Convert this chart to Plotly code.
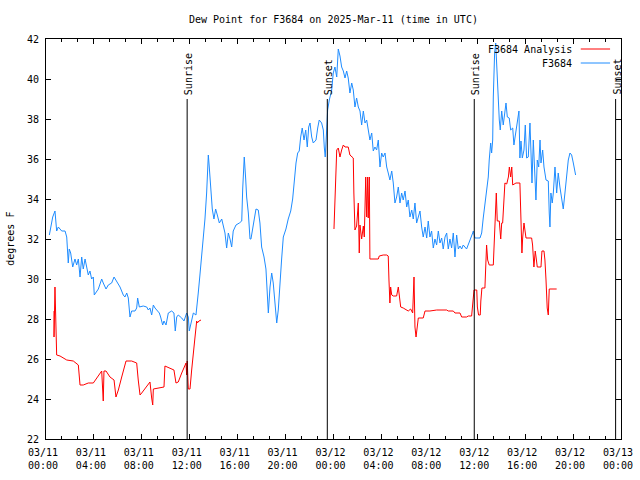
import pandas as pd
import plotly.graph_objects as go

# ---- data (hours since 2025-03-11 00:00 UTC, dew point in degrees F) ----
obs_hours = [0.28, 0.56, 0.75, 0.89, 1.03, 1.31, 1.59, 1.73, 1.86, 1.94, 2.06, 2.23, 2.42, 2.56, 2.70, 2.84,
             2.98, 3.11, 3.26, 3.40, 3.53, 3.67, 3.81, 3.95, 4.03, 4.37, 4.65, 4.78, 5.01, 5.20, 5.48, 5.68,
             5.90, 6.18, 6.45, 6.59, 6.74, 6.87, 7.01, 7.15, 7.43, 7.57, 7.65, 7.79, 8.12, 8.41, 8.54, 8.68,
             8.82, 8.96, 9.10, 9.24, 9.46, 9.57, 9.74, 9.85, 10.02, 10.21, 10.49, 10.68, 10.79, 10.91, 11.04,
             11.33, 11.52, 11.74, 11.88, 11.96, 12.16, 12.30, 12.52, 12.63, 12.71, 12.85, 13.00, 13.13, 13.27,
             13.41, 13.55, 13.63, 13.75, 13.88, 14.02, 14.16, 14.30, 14.47, 14.67, 14.80, 14.94, 15.08, 15.22,
             15.36, 15.50, 15.63, 15.86, 16.14, 16.34, 16.42, 16.55, 16.67, 16.75, 16.89, 17.03, 17.11, 17.25,
             17.36, 17.53, 17.72, 17.86, 18.00, 18.20, 18.36, 18.47, 18.56, 18.70, 18.84, 18.97, 19.11, 19.26,
             19.39, 19.53, 19.67, 19.81, 20.03, 20.22, 20.43, 20.59, 20.73, 20.87, 21.01, 21.14, 21.26, 21.39,
             21.54, 21.68, 21.81, 21.93, 22.04, 22.18, 22.31, 22.54, 22.68, 22.81, 23.01, 23.15, 23.23, 23.31,
             23.43, 23.51, 23.65, 23.85, 23.98, 24.12, 24.27, 24.40, 24.54, 24.68, 24.82, 24.96, 25.10, 25.23,
             25.37, 25.52, 25.65, 25.79, 25.93, 26.07, 26.21, 26.35, 26.49, 26.63, 26.77, 26.90, 27.04, 27.19,
             27.32, 27.46, 27.60, 27.74, 27.88, 28.02, 28.15, 28.30, 28.44, 28.57, 28.71, 28.86, 28.99, 29.13,
             29.27, 29.41, 29.55, 29.69, 29.82, 29.97, 30.11, 30.24, 30.38, 30.53, 30.66, 30.80, 30.94, 31.08,
             31.22, 31.36, 31.49, 31.64, 31.78, 31.91, 32.05, 32.19, 32.33, 32.47, 32.61, 32.75, 32.89, 33.03,
             33.16, 33.31, 33.45, 33.58, 33.72, 33.86, 34.00, 34.14, 34.28, 34.42, 34.56, 34.70, 34.83, 35.11,
             35.25, 35.45, 35.62, 35.67, 35.81, 36.23, 36.37, 36.50, 36.64, 36.78, 36.92, 37.00, 37.12, 37.20,
             37.29, 37.34, 37.45, 37.54, 37.62, 37.75, 37.84, 37.92, 38.04, 38.17, 38.31, 38.40, 38.51, 38.67,
             38.79, 38.96, 39.06, 39.23, 39.37, 39.48, 39.56, 39.65, 39.76, 39.90, 40.01, 40.12, 40.26, 40.40,
             40.48, 40.57, 40.68, 40.82, 40.90, 41.01, 41.13, 41.24, 41.32, 41.46, 41.57, 41.74, 41.93, 42.01,
             42.07, 42.15, 42.26, 42.35, 42.49, 42.63, 42.76, 42.90, 43.04, 43.18, 43.32, 43.46, 43.60, 43.74,
             43.88, 44.02, 44.16, 44.21]
obs_dewpt = [32.2, 33.1, 33.4, 32.4, 32.6, 32.4, 32.4, 32.1, 30.8, 31.5, 31.3, 30.6, 31.0, 30.7, 31.0, 30.1,
             31.1, 30.5, 31.0, 30.6, 30.2, 30.4, 30.0, 30.1, 29.2, 29.5, 30.0, 29.8, 29.5, 29.7, 29.8, 30.1,
             29.9, 29.6, 29.2, 29.1, 29.3, 29.05, 28.1, 28.4, 28.4, 28.55, 29.05, 28.6, 28.65, 28.6, 28.45, 28.55,
             28.2, 28.7, 28.55, 28.45, 28.3, 28.1, 27.7, 27.9, 27.7, 28.3, 28.4, 28.3, 27.4, 28.1, 28.2,
             28.05, 27.9, 28.3, 28.1, 27.4, 28.0, 28.3, 28.2, 28.7, 29.3, 30.2, 31.1, 32.0, 33.0,
             34.3, 36.2, 35.6, 34.5, 33.5, 33.0, 33.5, 33.2, 32.8, 33.0, 32.7, 32.3, 31.55, 32.3,
             32.0, 31.6, 32.4, 32.7, 32.8, 32.9, 34.5, 36.1, 35.0, 34.1, 33.3, 32.0, 32.0, 32.6,
             32.9, 33.5, 33.45, 32.8, 31.6, 31.1, 30.5, 29.3, 28.3, 29.6, 30.3, 29.8, 28.8, 27.8,
             28.45, 30.0, 31.0, 32.1, 32.5, 33.0, 33.4, 34.0, 35.1, 35.8, 36.3, 36.4, 37.1, 37.55,
             36.95, 37.45, 36.6, 37.6, 37.8, 37.1, 36.8, 36.95, 37.55, 37.95, 37.8, 37.45, 36.6, 36.1,
             37.45, 38.45, 38.95, 39.45, 40.3, 40.6, 40.1, 41.5, 41.15, 40.6, 40.4, 40.05, 40.4, 40.05,
             39.3, 39.8, 39.45, 38.6, 39.05, 38.6, 38.4, 37.7, 38.4, 37.8, 37.95, 37.45, 36.95, 37.3,
             36.4, 36.6, 36.45, 36.95, 35.6, 36.3, 36.1, 36.3, 35.6, 35.3, 34.95, 35.4, 34.8, 33.8,
             34.1, 34.6, 33.8, 34.3, 33.95, 34.4, 33.6, 33.95, 33.1, 33.45, 33.0, 33.8, 32.8, 33.1,
             33.4, 32.6, 32.1, 32.6, 32.05, 32.9, 32.1, 32.4, 31.55, 32.0, 31.7, 32.4, 31.8, 32.05,
             31.5, 32.1, 32.3, 31.5, 32.0, 31.55, 32.3, 31.1, 32.2, 31.5, 31.65, 31.5, 31.7, 31.5,
             31.7, 32.0, 32.3, 32.4, 32.05, 32.05, 32.3, 33.05, 33.8, 34.6, 35.1, 35.95, 36.8, 36.3,
             36.95, 39.1, 41.3, 41.8, 40.6, 39.1, 37.95, 37.45, 38.4, 37.7, 38.6, 38.8, 38.1, 38.05,
             37.45, 37.55, 36.7, 37.45, 38.05, 38.4, 36.05, 36.9, 36.05, 36.45, 37.7, 36.05, 36.1, 37.8,
             36.45, 34.8, 36.95, 35.45, 33.95, 35.95, 35.6, 36.95, 35.8, 36.45, 35.6, 34.95, 34.9, 33.3,
             32.6, 34.3, 33.8, 34.3, 35.6, 34.3, 35.3, 34.6, 34.1, 33.5, 34.3, 35.3, 35.95, 36.3,
             36.2, 35.8, 35.3, 35.2]

ana_hours = [0.67, 0.67, 0.75, 0.83, 0.89, 1.17, 1.73, 2.28, 2.70, 2.84, 3.11, 3.53, 3.95, 4.65, 4.78, 4.84,
             5.01, 5.34, 5.68, 5.84, 6.04, 6.32, 6.68, 7.15, 7.57, 7.70, 7.85, 7.99, 8.41, 8.68, 8.82, 8.91,
             8.96, 9.37, 9.85, 9.93, 10.35, 10.68, 10.85, 11.04, 11.33, 11.52, 11.69, 11.74, 11.79, 11.88,
             12.02, 12.16, 12.30, 12.44, 12.58, 12.63, 12.77, 12.94,
             None,
             24.04, 24.12, 24.21, 24.27, 24.40, 24.54, 24.68, 24.82, 24.96, 25.23, 25.37, 25.65, 25.70, 25.79,
             25.93, 26.02, 26.07, 26.15, 26.21, 26.35, 26.49, 26.57, 26.69, 26.77, 26.85, 26.90, 26.99, 27.04,
             27.74, 27.82, 28.15, 28.44, 28.57, 28.63, 28.71, 28.77, 28.86, 28.99, 29.27, 29.41, 29.49, 29.61,
             29.82, 30.11, 30.24, 30.44, 30.61, 30.72, 30.80, 30.89, 30.99, 31.08, 31.49, 31.64, 32.05, 32.61,
             33.45, 33.58, 34.00, 34.14, 34.56, 34.70, 35.11, 35.25, 35.53, 35.62, 35.67, 35.73, 35.96, 36.01,
             36.11, 36.25, 36.30, 36.39, 36.64, 36.69, 36.78, 36.87, 37.00, 37.34, 37.40, 37.51, 37.59, 37.67,
             37.84, 37.96, 38.04, 38.12, 38.23, 38.31, 38.46, 38.60, 38.68, 38.79, 38.88, 38.96, 39.23, 39.56,
             39.65, 39.73, 39.79, 39.90, 39.98, 40.07, 40.54, 40.62, 40.73, 40.84, 40.93, 41.01, 41.32, 41.40,
             41.57, 41.65, 41.74, 41.84, 41.93, 42.01, 42.63]
ana_dewpt = [28.4, 27.1, 29.6, 27.9, 26.2, 26.15, 25.95, 25.9, 25.7, 24.7, 24.7, 24.8, 24.8, 25.4, 23.9, 25.4,
             25.4, 25.1, 24.95, 24.1, 24.45, 25.1, 25.9, 25.9, 25.8, 24.95, 24.2, 24.3, 24.6, 24.85, 24.05, 23.7,
             24.5, 24.55, 24.6, 25.65, 25.55, 25.45, 24.8, 24.85, 25.3, 25.6, 25.8, 25.2, 25.9, 24.5,
             24.5, 25.45, 26.45, 27.1, 27.9, 27.8, 27.9, 27.95,
             None,
             32.5, 33.8, 35.3, 36.45, 36.55, 36.1, 36.45, 36.7, 36.6, 36.6, 36.2, 36.05, 34.3, 32.45,
             32.65, 33.3, 33.8, 31.3, 32.7, 32.0, 32.65, 32.1, 35.1, 33.1, 35.1, 33.05, 35.1, 31.0,
             31.0, 31.15, 31.2, 31.2, 31.15, 29.95, 28.8, 29.6, 29.2, 29.15, 29.15, 29.6, 29.15, 28.6,
             28.55, 28.45, 28.4, 28.5, 28.3, 30.1, 27.6, 27.1, 27.6, 28.05, 28.05, 28.4, 28.4, 28.45,
             28.45, 28.4, 28.4, 28.3, 28.3, 28.1, 28.1, 28.15, 28.15, 28.8, 29.45, 29.45, 29.45, 28.6,
             28.2, 28.2, 28.9, 29.55, 29.55, 30.55, 31.7, 30.95, 30.7, 30.7, 31.55, 32.9, 34.3, 32.9,
             32.9, 32.0, 32.8, 32.8, 33.8, 34.8, 34.75, 35.1, 35.6, 35.1, 35.6, 34.7, 34.8, 34.8,
             32.95, 31.3, 32.05, 32.8, 32.45, 32.05, 32.05, 31.7, 30.6, 31.4, 31.0, 30.6, 30.6, 31.4,
             31.4, 30.95, 29.95, 28.55, 28.2, 29.5, 29.5]

event_labels = ["Sunrise", "Sunset", "Sunrise", "Sunset"]
event_times = ["2025-03-11 11:47", "2025-03-11 23:29", "2025-03-12 11:45", "2025-03-12 23:33"]

tick_times = ["2025-03-11 00:00", "2025-03-11 04:00", "2025-03-11 08:00", "2025-03-11 12:00",
              "2025-03-11 16:00", "2025-03-11 20:00", "2025-03-12 00:00", "2025-03-12 04:00",
              "2025-03-12 08:00", "2025-03-12 12:00", "2025-03-12 16:00", "2025-03-12 20:00",
              "2025-03-13 00:00"]
tick_labels = ["03/11<br>00:00", "03/11<br>04:00", "03/11<br>08:00", "03/11<br>12:00",
               "03/11<br>16:00", "03/11<br>20:00", "03/12<br>00:00", "03/12<br>04:00",
               "03/12<br>08:00", "03/12<br>12:00", "03/12<br>16:00", "03/12<br>20:00",
               "03/13<br>00:00"]

series_names = ["F3684 Analysis", "F3684"]
series_colors = ["#ff0000", "#1e8cff"]

# ---- build ----
base = pd.Timestamp("2025-03-11 00:00")


def to_time(hours):
    return [None if h is None else base + pd.Timedelta(hours=h) for h in hours]


FONT = "DejaVu Sans Mono"
fig = go.Figure()

fig.add_trace(go.Scatter(x=to_time(ana_hours), y=ana_dewpt, mode="lines", name=series_names[0],
                         line=dict(color=series_colors[0], width=1), connectgaps=False,
                         showlegend=False))
fig.add_trace(go.Scatter(x=to_time(obs_hours), y=obs_dewpt, mode="lines", name=series_names[1],
                         line=dict(color=series_colors[1], width=1), showlegend=False))

for lab, t in zip(event_labels, event_times):
    fig.add_shape(type="line", x0=t, x1=t, y0=22, y1=39.0, xref="x", yref="y",
                  line=dict(color="black", width=1))
    fig.add_annotation(x=t, y=39.1, xref="x", yref="y", text=lab, textangle=-90,
                       showarrow=False, xanchor="center", yanchor="bottom", xshift=1,
                       font=dict(family=FONT, size=10, color="black"))

# gnuplot-style key: text right-aligned, line sample to its right
for i, (nm, col) in enumerate(zip(series_names, series_colors)):
    yp = 0.975 - i * 0.035
    fig.add_annotation(x=0.918, y=yp, xref="paper", yref="paper", text=nm, showarrow=False,
                       xanchor="right", yanchor="middle",
                       font=dict(family=FONT, size=10, color="black"))
    fig.add_shape(type="line", x0=0.930, x1=0.981, y0=yp, y1=yp, xref="paper", yref="paper",
                  line=dict(color=col, width=1))

fig.add_annotation(x=-0.063, y=0.5, xref="paper", yref="paper", text="degrees F", textangle=-90,
                   showarrow=False, xanchor="center", yanchor="middle",
                   font=dict(family=FONT, size=10, color="black"))

fig.update_layout(
    width=640, height=480,
    margin=dict(l=46, r=19, t=39, b=41, pad=0, autoexpand=False),
    paper_bgcolor="white", plot_bgcolor="white",
    font=dict(family=FONT, size=10, color="black"),
    title=dict(text="Dew Point for F3684 on 2025-Mar-11 (time in UTC)", x=0.521, xanchor="center",
               y=1 - 19 / 480, yanchor="middle", yref="container",
               font=dict(family=FONT, size=10, color="black"), automargin=False),
    showlegend=False,
)
fig.update_xaxes(type="date", range=[tick_times[0], tick_times[-1]], automargin=False,
                 tickmode="array", tickvals=tick_times, ticktext=tick_labels,
                 ticks="inside", ticklen=5, tickcolor="black", showgrid=False, zeroline=False,
                 showline=True, linecolor="black", linewidth=1, mirror="ticks",
                 ticklabelstandoff=4, ticklabelshift=-3,
                 minor=dict(ticks="inside", ticklen=3, dtick=80 * 60 * 1000, tick0=tick_times[0],
                            tickcolor="black", showgrid=False))
fig.update_yaxes(range=[22, 42], dtick=2, tick0=22, ticks="inside", ticklen=5, tickcolor="black",
                 showgrid=False, zeroline=False, showline=True, linecolor="black", linewidth=1,
                 mirror="ticks", automargin=False, ticklabelstandoff=4)

fig.write_html("out.html", config={"displayModeBar": False},
               post_script="document.body.style.margin='0px';document.body.style.overflow='hidden';")
